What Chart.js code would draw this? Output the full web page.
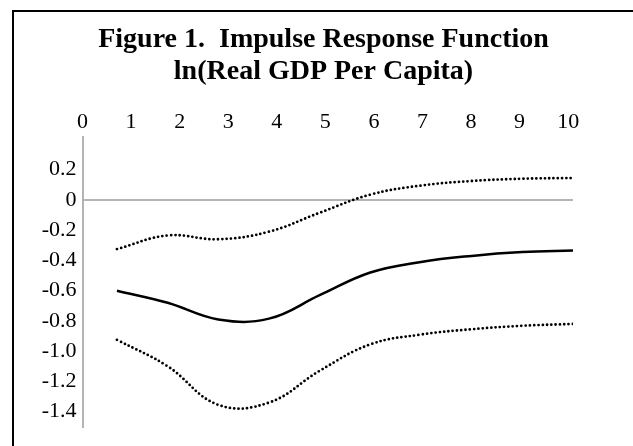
<!DOCTYPE html>
<html lang="en">
<head>
<meta charset="utf-8">
<title>Figure 1</title>
<script src="https://cdn.jsdelivr.net/npm/chart.js@4"></script>
<style>
  html, body { margin: 0; padding: 0; background: #fff; overflow: hidden; }
  .frame { position: absolute; left: 12px; top: 10px; width: 700px; height: 500px;
           border-left: 2px solid #000; border-top: 2px solid #000; }
  .wrap { position: absolute; left: 0; top: 0; width: 633px; height: 446px; }
</style>
</head>
<body>
<div class="frame"></div>
<div class="wrap"><canvas id="irf"></canvas></div>

<script>
// periods after the shock
var periods = [1, 2, 3, 4, 5, 6, 7, 8, 9, 10];
// point estimate and confidence bands
var response = [-0.60, -0.68, -0.79, -0.785, -0.63, -0.48, -0.41, -0.37, -0.345, -0.335];
var upperBand = [-0.325, -0.235, -0.26, -0.21, -0.085, 0.035, 0.095, 0.125, 0.14, 0.145];
var lowerBand = [-0.925, -1.10, -1.355, -1.34, -1.13, -0.955, -0.89, -0.855, -0.832, -0.82];

var xTicks = [0, 1, 2, 3, 4, 5, 6, 7, 8, 9, 10];
var yTicks = [0.2, 0, -0.2, -0.4, -0.6, -0.8, -1.0, -1.2, -1.4];
var yTickLabels = ['0.2', '0', '-0.2', '-0.4', '-0.6', '-0.8', '-1.0', '-1.2', '-1.4'];

function pts(vals) {
  return periods.map(function (p, i) { return { x: p, y: vals[i] }; });
}

var serif = "'Liberation Serif', 'Times New Roman', serif";
var axisGray = '#b4b4b4';

var dotted = {
  borderColor: '#000',
  borderWidth: 2.8,
  borderDash: [0, 4.3],
  borderCapStyle: 'round',
  pointRadius: 0,
  tension: 0.4,
  fill: false
};

var ctx = document.getElementById('irf').getContext('2d');
var chart = new Chart(ctx, {
  type: 'line',
  data: {
    datasets: [
      Object.assign({ label: 'Upper' , data: pts(upperBand) }, dotted),
      {
        label: 'Response',
        data: pts(response),
        borderColor: '#000',
        borderWidth: 2.5,
        pointRadius: 0,
        tension: 0.4,
        fill: false
      },
      Object.assign({ label: 'Lower', data: pts(lowerBand) }, dotted)
    ]
  },
  options: {
    responsive: true,
    maintainAspectRatio: false,
    animation: false,
    layout: { padding: { left: 14, right: 0, top: 10, bottom: 19 } },
    plugins: {
      legend: { display: false },
      tooltip: { enabled: false },
      title: {
        display: true,
        text: ['Figure 1.  Impulse Response Function', 'ln(Real GDP Per Capita)'],
        color: '#000',
        font: { family: serif, size: 28, weight: 'bold', lineHeight: 1.143 },
        padding: { top: 14, bottom: 0 }
      }
    },
    scales: {
      // data axis (hidden)
      x: {
        type: 'linear',
        display: false,
        min: 0.32,
        max: 10
      },
      // visible period labels along the top
      xTop: {
        type: 'linear',
        position: 'top',
        min: 0,
        max: 10.1,
        afterBuildTicks: function (s) { s.ticks = xTicks.map(function (v) { return { value: v }; }); },
        afterFit: function (s) { s.height = 49; },
        grid: { display: false, drawTicks: false },
        border: { display: false },
        ticks: {
          color: '#000',
          padding: 2,
          maxRotation: 0,
          font: { family: serif, size: 22 },
          callback: function (v) { return String(v); }
        }
      },
      y: {
        type: 'linear',
        min: -1.5,
        max: 0.416,
        afterBuildTicks: function (s) { s.ticks = yTicks.map(function (v) { return { value: v }; }); },
        afterFit: function (s) { s.width = 68.5; },
        grid: {
          drawTicks: false,
          lineWidth: 2,
          color: function (c) { return c.tick && c.tick.value === 0 ? axisGray : 'rgba(0,0,0,0)'; }
        },
        border: { display: true, color: axisGray, width: 2 },
        ticks: {
          color: '#000',
          padding: 6,
          font: { family: serif, size: 22 },
          callback: function (v, i) { return yTickLabels[i]; }
        }
      },
      // spacer on the right
      yRight: {
        type: 'linear',
        position: 'right',
        min: 0,
        max: 1,
        afterFit: function (s) { s.width = 60; },
        grid: { display: false, drawTicks: false },
        border: { display: false },
        ticks: { display: false }
      }
    }
  }
});
</script>
</body>
</html>
